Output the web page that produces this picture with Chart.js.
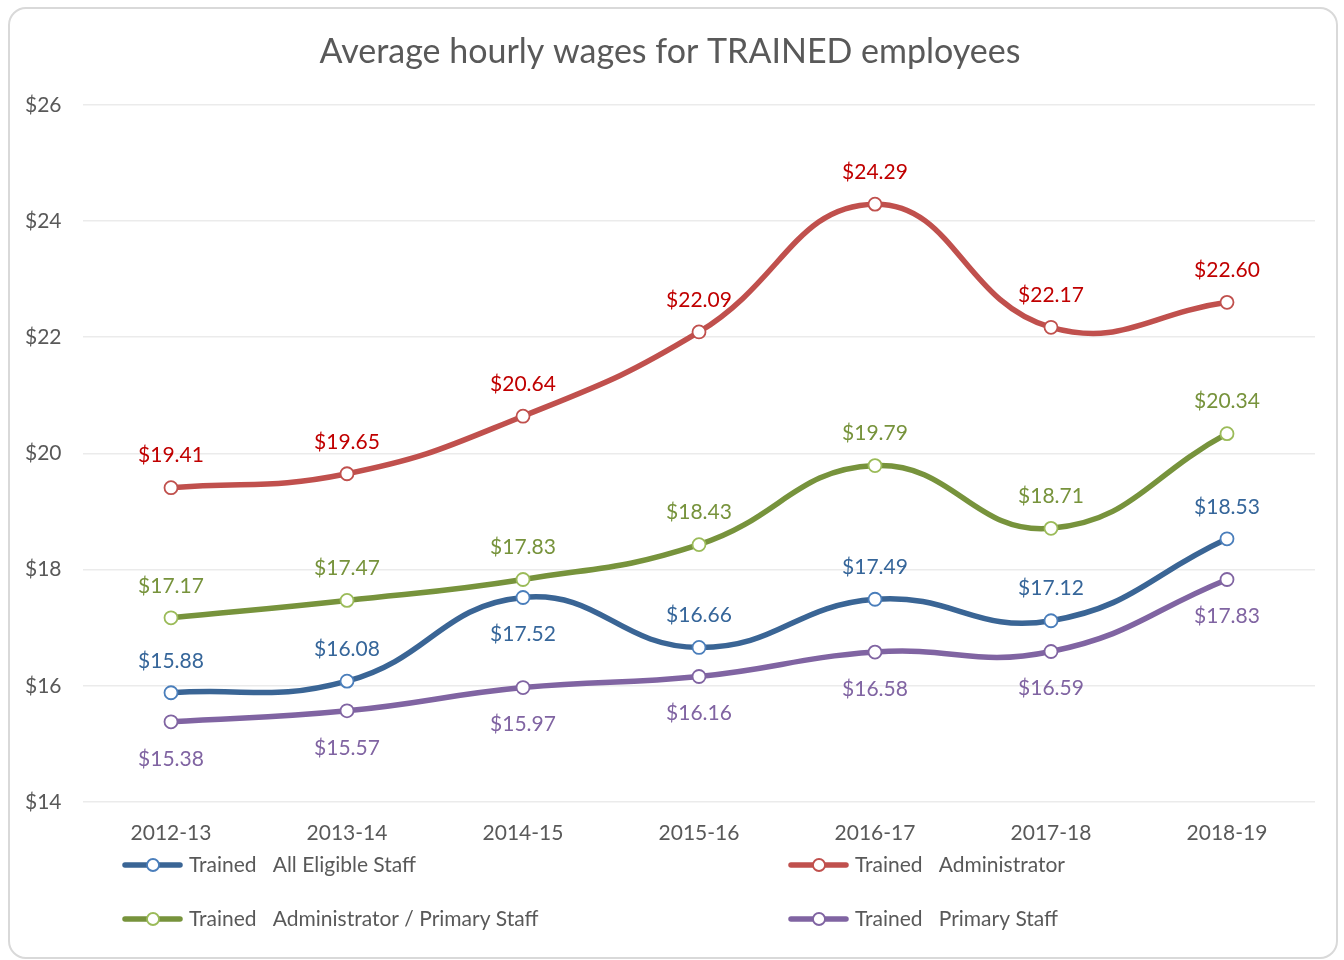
<!DOCTYPE html>
<html>
<head>
<meta charset="utf-8">
<script src="https://cdn.jsdelivr.net/npm/chart.js@4/dist/chart.umd.min.js"></script>
<style>
  body { margin: 0; background: #fff; }
  #frame { position: absolute; left: 8px; top: 7px; width: 1330px; height: 952px;
           border: 2px solid #d9d9d9; border-radius: 18px; box-sizing: border-box; }
  #wrap { position: absolute; left: 0; top: 0; width: 1344px; height: 960px; }
</style>
</head>
<body>
<div id="frame"></div>
<div id="wrap"><canvas id="canvas1" width="1344" height="960"></canvas></div>
<script>
// data
var years = ["2012-13", "2013-14", "2014-15", "2015-16", "2016-17", "2017-18", "2018-19"];
var allEligible = [15.88, 16.08, 17.52, 16.66, 17.49, 17.12, 18.53];
var administrator = [19.41, 19.65, 20.64, 22.09, 24.29, 22.17, 22.60];
var adminPrimary = [17.17, 17.47, 17.83, 18.43, 19.79, 18.71, 20.34];
var primaryStaff = [15.38, 15.57, 15.97, 16.16, 16.58, 16.59, 17.83];
var yTicks = [14, 16, 18, 20, 22, 24, 26];

var FONT = "Lato, 'Open Sans', sans-serif";

// where each value label goes: up or down
var labelSide = [
    ["up", "up", "down", "up", "up", "up", "up"],
    ["up", "up", "up", "up", "up", "up", "up"],
    ["up", "up", "up", "up", "up", "up", "up"],
    ["down", "down", "down", "down", "down", "down", "down"]
];
var labelColor = ["#36669a", "#c00000", "#77933c", "#8064a2"];

var valueLabels = {
    id: 'valueLabels',
    afterDatasetsDraw: function(chart) {
        var ctx = chart.ctx;
        ctx.save();
        ctx.font = "21px " + FONT;
        ctx.textAlign = "center";
        ctx.textBaseline = "middle";
        chart.data.datasets.forEach(function(ds, i) {
            var meta = chart.getDatasetMeta(i);
            meta.data.forEach(function(pt, j) {
                var dy = labelSide[i][j] == "up" ? -32 : 37;
                ctx.fillStyle = labelColor[i];
                ctx.fillText("$" + ds.data[j].toFixed(2), pt.x, pt.y + dy);
            });
        });
        ctx.restore();
    }
};

var lineLegend = {
    id: 'lineLegend',
    afterDraw: function(chart) {
        var ctx = chart.ctx;
        var a = chart.chartArea;
        var spots = [
            [a.left + 42, a.bottom + 63],
            [a.left + 708, a.bottom + 63],
            [a.left + 42, a.bottom + 117],
            [a.left + 708, a.bottom + 117]
        ];
        ctx.save();
        ctx.font = "21px " + FONT;
        ctx.textBaseline = "middle";
        chart.data.datasets.forEach(function(ds, i) {
            var x = spots[i][0], y = spots[i][1];
            ctx.strokeStyle = ds.borderColor;
            ctx.lineWidth = 5.5;
            ctx.lineCap = "round";
            ctx.beginPath();
            ctx.moveTo(x, y);
            ctx.lineTo(x + 55, y);
            ctx.stroke();
            ctx.beginPath();
            ctx.arc(x + 28, y, 6, 0, Math.PI * 2);
            ctx.fillStyle = "#fff";
            ctx.fill();
            ctx.lineWidth = 1.8;
            ctx.strokeStyle = ds.pointBorderColor;
            ctx.stroke();
            ctx.fillStyle = "#595959";
            ctx.fillText(ds.label, x + 64, y);
        });
        ctx.restore();
    }
};

function series(label, values, line, marker) {
    return {
        label: label,
        data: values,
        borderColor: line,
        borderWidth: 5.5,
        tension: 0.45,
        pointRadius: 6.5,
        pointBorderWidth: 1.8,
        pointBackgroundColor: "#fff",
        pointBorderColor: marker
    };
}

new Chart(document.getElementById("canvas1"), {
    type: 'line',
    data: {
        labels: years,
        datasets: [
            series("Trained   All Eligible Staff", allEligible, "#3a6595", "#4a7ebb"),
            series("Trained   Administrator", administrator, "#c0504d", "#c0504d"),
            series("Trained   Administrator / Primary Staff", adminPrimary, "#77933c", "#9bbb59"),
            series("Trained   Primary Staff", primaryStaff, "#8064a2", "#8064a2")
        ]
    },
    plugins: [valueLabels, lineLegend],
    options: {
        responsive: false,
        animation: false,
        layout: { padding: { top: 20, left: 25, right: 29, bottom: 98 } },
        plugins: {
            legend: { display: false },
            tooltip: { enabled: false },
            title: {
                display: true,
                text: "Average hourly wages for TRAINED employees",
                color: "#595959",
                font: { family: FONT, size: 34, weight: "normal" },
                padding: { top: 12, bottom: 32 }
            }
        },
        scales: {
            x: {
                offset: true,
                grid: { display: false, drawTicks: false },
                border: { display: false },
                ticks: { color: "#595959", padding: 19, font: { family: FONT, size: 21 } },
                afterFit: function(s) { s.height = 60; }
            },
            y: {
                min: 14,
                max: 26,
                afterBuildTicks: function(s) {
                    s.ticks = yTicks.map(function(v) { return { value: v }; });
                },
                grid: { color: "#ebebeb", lineWidth: 1.5, drawTicks: false },
                border: { display: false },
                ticks: {
                    color: "#595959",
                    crossAlign: "far",
                    padding: 0,
                    font: { family: FONT, size: 21 },
                    callback: function(v) { return "$" + v; }
                },
                afterFit: function(s) { s.width = 58; }
            }
        }
    }
});
</script>
</body>
</html>
